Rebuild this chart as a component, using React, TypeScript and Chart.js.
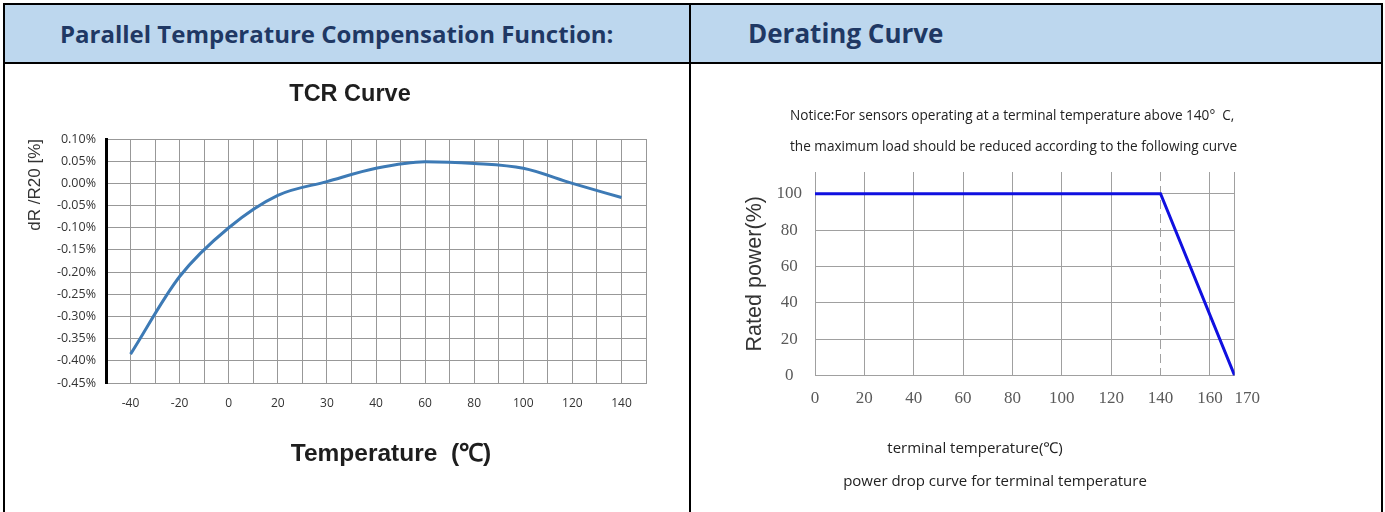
import React, { useEffect, useRef } from "react";
import { Chart, registerables } from "chart.js";

Chart.register(...registerables);

// ---- TCR curve data ----
const tcrCategories = ["-40", "-20", "0", "20", "30", "40", "60", "80", "100", "120", "140"];
const tcrValues = [-0.385, -0.21, -0.1, -0.027, 0.004, 0.034, 0.049, 0.045, 0.034, 0.0, -0.032];
const tcrYTicks = [0.1, 0.05, 0.0, -0.05, -0.1, -0.15, -0.2, -0.25, -0.3, -0.35, -0.4, -0.45];

// ---- Derating curve data ----
const derateTemps = [0, 140, 170];
const deratePower = [100, 100, 0];
const derateXTicks = [0, 20, 40, 60, 80, 100, 120, 140, 160, 170];
const derateYTicks = [0, 20, 40, 60, 80, 100];

const SANS = "'Liberation Sans', Arial, sans-serif";
const SERIF = "'Liberation Serif', 'Times New Roman', serif";
const UI = "'Open Sans', 'Noto Sans', sans-serif";
const GRID1 = "#989898";

function TcrChart() {
  const ref = useRef<HTMLCanvasElement | null>(null);
  useEffect(() => {
    if (!ref.current) return;
    const halfSteps = Array.from({ length: tcrCategories.length * 2 + 1 }, (_, i) => i / 2 - 0.5);
    const chart = new Chart(ref.current, {
      type: "line",
      data: {
        datasets: [
          {
            data: tcrCategories.map((_, i) => ({ x: i, y: tcrValues[i] })),
            borderColor: "#3d7ab5",
            borderWidth: 3,
            pointRadius: 0,
            cubicInterpolationMode: "monotone",
            fill: false,
          },
        ],
      },
      options: {
        responsive: false,
        animation: false,
        layout: { padding: { left: 8, top: 74, right: 43, bottom: 69 } },
        plugins: {
          legend: { display: false },
          tooltip: { enabled: false },
          title: { display: false },
        },
        scales: {
          x: {
            type: "linear",
            min: -0.5,
            max: tcrCategories.length - 0.5,
            afterBuildTicks: (s: any) => {
              s.ticks = halfSteps.map((v) => ({ value: v }));
            },
            afterFit: (s: any) => {
              s.height = 60;
            },
            grid: { color: GRID1, lineWidth: 1, drawTicks: false },
            border: { color: GRID1, width: 1 },
            ticks: {
              autoSkip: false,
              maxRotation: 0,
              padding: 13,
              color: "#333",
              font: { family: UI, size: 12 },
              callback: (v: any) => (Number.isInteger(v) ? tcrCategories[v] : ""),
            },
          },
          y: {
            type: "linear",
            min: -0.45,
            max: 0.1,
            afterBuildTicks: (s: any) => {
              s.ticks = tcrYTicks.slice().reverse().map((v) => ({ value: v }));
            },
            afterFit: (s: any) => {
              s.width = 93;
            },
            grid: { color: GRID1, lineWidth: 1, drawTicks: false },
            border: { color: "#000", width: 3 },
            ticks: {
              padding: 10,
              color: "#333",
              font: { family: UI, size: 12.5 },
              callback: (v: any) => Number(v).toFixed(2) + "%",
            },
            title: {
              display: true,
              text: "dR /R20 [%]",
              align: "end",
              color: "#333",
              font: { family: SANS, size: 17, lineHeight: 1.2 },
              padding: { top: 12, bottom: 0 },
            },
          },
        },
      } as any,
    });
    return () => chart.destroy();
  }, []);
  return <canvas ref={ref} width={684} height={447} style={{ position: "absolute", left: 5, top: 65, width: 684, height: 447 }} />;
}

function DerateChart() {
  const ref = useRef<HTMLCanvasElement | null>(null);
  useEffect(() => {
    if (!ref.current) return;
    const chart = new Chart(ref.current, {
      type: "line",
      data: {
        datasets: [
          {
            data: derateTemps.map((t, i) => ({ x: t, y: deratePower[i] })),
            borderColor: "#1010e0",
            borderWidth: 3,
            pointRadius: 0,
            tension: 0,
            fill: false,
          },
        ],
      },
      options: {
        responsive: false,
        animation: false,
        layout: { padding: { left: 38, top: 107, right: 146.4, bottom: 76.5 } },
        plugins: { legend: { display: false }, tooltip: { enabled: false }, title: { display: false } },
        scales: {
          x: {
            type: "linear",
            min: 0,
            max: 170,
            afterBuildTicks: (s: any) => {
              s.ticks = derateXTicks.map((v) => ({ value: v }));
            },
            afterFit: (s: any) => {
              s.height = 60;
            },
            grid: { color: "#a0a0a0", lineWidth: 1, drawTicks: false },
            border: {
              color: "#a0a0a0",
              width: 1,
              dash: (ctx: any) => (ctx.tick && ctx.tick.value === 140 ? [9, 5] : []),
            },
            ticks: {
              autoSkip: false,
              maxRotation: 0,
              padding: 13,
              color: "#5a5a5a",
              font: { family: SERIF, size: 17 },
              callback: (v: any) => (v === 170 ? "\u2002\u2002\u2002170" : String(v)),
            },
          },
          y: {
            type: "linear",
            min: 0,
            max: 112,
            afterBuildTicks: (s: any) => {
              s.ticks = derateYTicks.map((v) => ({ value: v }));
            },
            afterFit: (s: any) => {
              s.width = 85;
            },
            grid: { color: "#a0a0a0", lineWidth: 1, drawTicks: false },
            border: { color: "#a0a0a0", width: 1 },
            ticks: {
              crossAlign: "center",
              padding: 13,
              color: "#5a5a5a",
              font: { family: SERIF, size: 17 },
            },
            title: {
              display: true,
              text: "Rated power(%)",
              color: "#333",
              font: { family: SANS, size: 21.5, lineHeight: 1.2 },
              padding: { top: 12, bottom: 0 },
            },
          },
        },
      } as any,
    });
    return () => chart.destroy();
  }, []);
  return <canvas ref={ref} width={689} height={447} style={{ position: "absolute", left: 692, top: 65, width: 689, height: 447 }} />;
}

const line = (l: number, t: number, w: number, h: number) => (
  <div style={{ position: "absolute", left: l, top: t, width: w, height: h, background: "#000" }} />
);

export default function App() {
  const headerText: React.CSSProperties = {
    position: "absolute",
    top: 5,
    height: 57,
    lineHeight: "57px",
    fontFamily: UI,
    fontWeight: 700,
    color: "#1f3864",
    whiteSpace: "nowrap",
  };
  const small: React.CSSProperties = {
    position: "absolute",
    fontFamily: UI,
    color: "#222",
    whiteSpace: "nowrap",
  };
  const boldTitle: React.CSSProperties = {
    position: "absolute",
    width: 400,
    lineHeight: "30px",
    textAlign: "center",
    fontFamily: SANS,
    fontWeight: 700,
    color: "#1e1e1e",
    whiteSpace: "nowrap",
  };
  return (
    <div style={{ position: "absolute", left: 0, top: 0, width: 1385, height: 512, overflow: "hidden", background: "#fff" }}>
      <div style={{ position: "absolute", left: 5, top: 5, width: 1376, height: 57, background: "#bdd7ee" }} />
      <div style={{ ...headerText, left: 60, fontSize: 24 }}>Parallel Temperature Compensation Function:</div>
      <div style={{ ...headerText, left: 748, fontSize: 26 }}>Derating Curve</div>
      {line(3, 3, 1380, 2)}
      {line(3, 62, 1380, 2)}
      {line(3, 3, 2, 509)}
      {line(689, 3, 2, 509)}
      {line(1381, 3, 2, 509)}
      <TcrChart />
      <DerateChart />
      <div style={{ ...boldTitle, left: 150, top: 78, fontSize: 23.5 }}>TCR Curve</div>
      <div style={{ ...boldTitle, left: 191, top: 438, fontSize: 24.5 }}>Temperature&nbsp;&nbsp;(℃)</div>
      <div style={{ ...small, left: 790, top: 106, fontSize: 13.6, lineHeight: "18px" }}>
        Notice:For sensors operating at a terminal temperature above 140°&nbsp;&nbsp;C,
      </div>
      <div style={{ ...small, left: 790, top: 137, fontSize: 13.6, lineHeight: "18px" }}>
        the maximum load should be reduced according to the following curve
      </div>
      <div style={{ ...small, left: 775, width: 400, textAlign: "center", top: 438, fontSize: 15, lineHeight: "18px" }}>
        terminal temperature(℃)
      </div>
      <div style={{ ...small, left: 795, width: 400, textAlign: "center", top: 471, fontSize: 15, lineHeight: "18px" }}>
        power drop curve for terminal temperature
      </div>
    </div>
  );
}
